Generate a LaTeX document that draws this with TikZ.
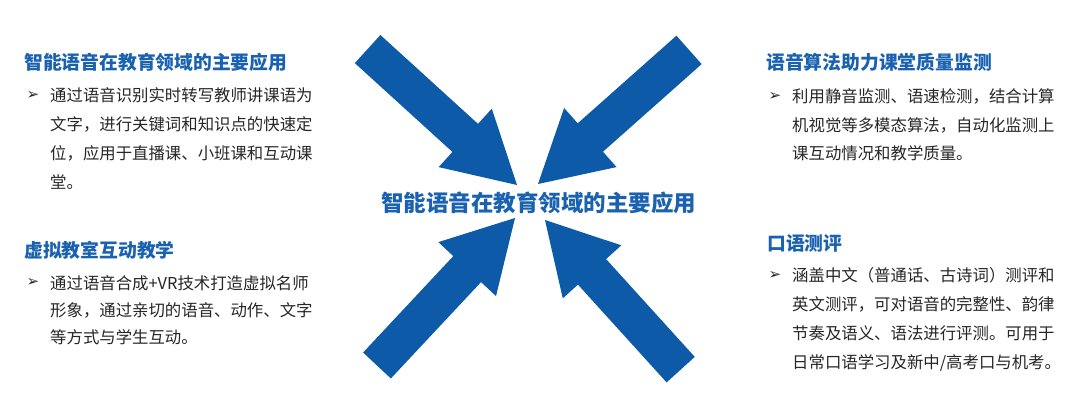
\documentclass[tikz,border=0pt]{standalone}
\usepackage{fontspec}
\setmainfont{Noto Sans CJK SC}
\newfontfamily\symfont{DejaVu Sans}
\usetikzlibrary{positioning}
\definecolor{arrowblue}{HTML}{0C5AA8}
\definecolor{titleblue}{HTML}{1A62B0}
\definecolor{bodygray}{HTML}{262626}

\begin{document}
\begin{tikzpicture}[x=1pt,y=-1pt,inner sep=0pt,
                    title/.style={anchor=west,text=titleblue,
                      font=\bfseries\fontsize{18.8}{22}\selectfont},
                    body/.style={anchor=base west,align=left,text=bodygray,
                      font=\fontsize{16.4}{#1}\selectfont},
                    bullet/.style={text=bodygray,
                      font=\symfont\bfseries\fontsize{15}{18}\selectfont}]

  \useasboundingbox (0,0) rectangle (1080,420);

  % arrows pointing to the centre
  \foreach \tip/\ang in {{(517,185)}/-42.3, {(538,184)}/-138.4,
                         {(515,218)}/46.9, {(545,220)}/132.2}
    \fill[arrowblue,shift={\tip},rotate=\ang]
      (0,0) -- (-70,39.5) -- (-70,19) -- (-202,19)
      -- (-202,-19) -- (-70,-19) -- (-70,-39.5) -- cycle;

  \node (C) at (538.5,203) [text=titleblue,
        font=\bfseries\fontsize{22.5}{26}\selectfont]
        {智能语音在教育领域的主要应用};

  % left side (body nodes sit on their last line)
  \node[title] (T1) at (24,62) {智能语音在教育领域的主要应用};
  \node[bullet] (P1) at (33,95.5) {➢};
  \node[body=29] (B1) at (50,188.7)
        {通过语音识别实时转写教师讲课语为\\文字，进行关键词和知识点的快速定\\位，应用于直播课、小班课和互动课\\堂。};

  \node[title] (T2) at (24,250) {虚拟教室互动教学};
  \node[bullet] (P2) at (33,283) {➢};
  \node[body=27] (B2) at (50,343.2)
        {通过语音合成+VR技术打造虚拟名师\\形象，通过亲切的语音、动作、文字\\等方式与学生互动。};

  % right side
  \node[title] (T3) at (766,62) {语音算法助力课堂质量监测};
  \node[bullet] (P3) at (775,96.5) {➢};
  \node[body=28.5] (B3) at (792,159.7)
        {利用静音监测、语速检测，结合计算\\机视觉等多模态算法，自动化监测上\\课互动情况和教学质量。};

  \node[title] (T4) at (767,243) {口语测评};
  \node[bullet] (P4) at (775,275) {➢};
  \node[body=29] (B4) at (792,368.2)
        {涵盖中文（普通话、古诗词）测评和\\英文测评，可对语音的完整性、韵律\\节奏及语义、语法进行评测。可用于\\日常口语学习及新中/高考口与机考。};
\end{tikzpicture}
\end{document}
